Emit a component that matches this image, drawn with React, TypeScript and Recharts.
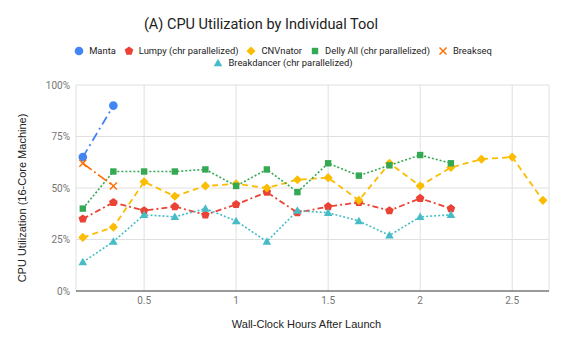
import React from 'react'
import { LineChart, Line, XAxis, YAxis, CartesianGrid } from 'recharts'

// hours after launch, one sample every 10 minutes
const hours = [0.167, 0.333, 0.5, 0.667, 0.833, 1, 1.167, 1.333, 1.5, 1.667, 1.833, 2, 2.167, 2.333, 2.5, 2.667]
const manta = [65, 90]
const lumpy = [35, 43, 39, 41, 37, 42, 48, 38, 41, 43, 39, 45, 40]
const cnvnator = [26, 31, 53, 46, 51, 52, 50, 54, 55, 44, 62, 51, 60, 64, 65, 44]
const delly = [40, 58, 58, 58, 59, 51, 59, 48, 62, 56, 61, 66, 62]
const breakseq = [62, 51]
const breakdancer = [14, 24, 37, 36, 40, 34, 24, 39, 38, 34, 27, 36, 37]

const xTicks = [0.5, 1, 1.5, 2, 2.5]
const yTicks = [0, 25, 50, 75, 100]

type Shape = 'circle' | 'pentagon' | 'diamond' | 'square' | 'x' | 'triangle'

const SERIES: { key: string; name: string; values: number[]; color: string; dash?: string; width: number; shape: Shape }[] = [
  { key: 'manta', name: 'Manta', values: manta, color: '#4285f4', dash: '9 4 2 4', width: 1.8, shape: 'circle' },
  { key: 'lumpy', name: 'Lumpy (chr parallelized)', values: lumpy, color: '#ea4335', dash: '6 3 2 3', width: 1.8, shape: 'pentagon' },
  { key: 'cnvnator', name: 'CNVnator', values: cnvnator, color: '#fbbc04', dash: '6 4', width: 1.8, shape: 'diamond' },
  { key: 'delly', name: 'Delly All (chr parallelized)', values: delly, color: '#34a853', dash: '2 2', width: 1.6, shape: 'square' },
  { key: 'breakseq', name: 'Breakseq', values: breakseq, color: '#ff6d01', dash: '11 3 2 3', width: 1.7, shape: 'x' },
  { key: 'breakdancer', name: 'Breakdancer (chr parallelized)', values: breakdancer, color: '#46bdc6', dash: '2 2', width: 1.6, shape: 'triangle' },
]

const data = hours.map((h, i) => {
  const row: Record<string, number | null> = { h }
  SERIES.forEach((s) => {
    row[s.key] = i < s.values.length ? s.values[i] : null
  })
  return row
})

function Marker({ shape, cx, cy, color }: { shape: Shape; cx: number; cy: number; color: string }) {
  switch (shape) {
    case 'circle':
      return <circle cx={cx} cy={cy} r={4.3} fill={color} />
    case 'pentagon': {
      const pts = [0, 1, 2, 3, 4]
        .map((k) => {
          const a = -Math.PI / 2 + (k * 2 * Math.PI) / 5
          return `${cx + 4.5 * Math.cos(a)},${cy + 4.5 * Math.sin(a)}`
        })
        .join(' ')
      return <polygon points={pts} fill={color} />
    }
    case 'diamond':
      return <polygon points={`${cx},${cy - 4.6} ${cx + 4.6},${cy} ${cx},${cy + 4.6} ${cx - 4.6},${cy}`} fill={color} />
    case 'square':
      return <rect x={cx - 3.2} y={cy - 3.2} width={6.4} height={6.4} fill={color} />
    case 'x':
      return (
        <g stroke={color} strokeWidth={1.4}>
          <line x1={cx - 3.5} y1={cy - 3.5} x2={cx + 3.5} y2={cy + 3.5} />
          <line x1={cx - 3.5} y1={cy + 3.5} x2={cx + 3.5} y2={cy - 3.5} />
        </g>
      )
    case 'triangle':
      return <polygon points={`${cx},${cy - 4.3} ${cx + 4.3},${cy + 3.2} ${cx - 4.3},${cy + 3.2}`} fill={color} />
  }
}

const FONT = 'Roboto, Arial, sans-serif'
const AXIS_FONT = 'Arial, "Liberation Sans", sans-serif'

function LegendItem({ s }: { s: (typeof SERIES)[number] }) {
  return (
    <span style={{ display: 'inline-flex', alignItems: 'center' }}>
      <svg width={10} height={10} style={{ marginRight: 5 }}>
        <Marker shape={s.shape} cx={5} cy={5} color={s.color} />
      </svg>
      {s.name}
    </span>
  )
}

export default function App() {
  return (
    <div style={{ position: 'fixed', left: 0, top: 0, width: 566, height: 350, background: '#fff', fontFamily: FONT }}>
      <div style={{ position: 'absolute', top: 16, left: 0, width: 522, textAlign: 'center', fontSize: 14.5, color: '#222' }}>
        (A) CPU Utilization by Individual Tool
      </div>
      <div style={{ position: 'absolute', top: 44.5, width: 566, fontSize: 9.4, color: '#222', lineHeight: '12.5px' }}>
        <div style={{ display: 'flex', justifyContent: 'center', gap: 8 }}>
          {SERIES.slice(0, 5).map((s) => (
            <LegendItem key={s.key} s={s} />
          ))}
        </div>
        <div style={{ display: 'flex', justifyContent: 'center' }}>
          <LegendItem s={SERIES[5]} />
        </div>
      </div>
      <LineChart width={566} height={350} data={data} margin={{ top: 85, right: 17, bottom: 19, left: 0 }}>
        <CartesianGrid stroke="#e0e0e0" strokeWidth={1} />
        <XAxis
          dataKey="h"
          type="number"
          domain={[0.13, 2.7]}
          ticks={xTicks}
          allowDataOverflow
          height={40}
          tickLine={false}
          tickSize={0}
          tickMargin={6}
          axisLine={{ stroke: '#444' }}
          tick={{ fill: '#757575', fontSize: 10, fontFamily: FONT }}
          label={{
            content: ({ viewBox }: any) => (
              <text
                x={viewBox.x + viewBox.width / 2 - 6}
                y={viewBox.y + 37}
                textAnchor="middle"
                fill="#222"
                fontSize={11}
                fontFamily={AXIS_FONT}
              >
                Wall-Clock Hours After Launch
              </text>
            ),
          }}
        />
        <YAxis
          type="number"
          domain={[0, 100]}
          ticks={yTicks}
          width={76}
          axisLine={false}
          tickLine={false}
          tickSize={0}
          tickMargin={6}
          tickFormatter={(v: number) => `${v}%`}
          tick={{ fill: '#757575', fontSize: 10, fontFamily: FONT }}
          label={{
            content: ({ viewBox }: any) => {
              const cx = viewBox.x + 22
              const cy = viewBox.y + viewBox.height / 2 + 10
              return (
                <text
                  x={cx}
                  y={cy}
                  transform={`rotate(-90 ${cx} ${cy})`}
                  textAnchor="middle"
                  dominantBaseline="central"
                  fill="#222"
                  fontSize={11}
                  fontFamily={AXIS_FONT}
                >
                  CPU Utilization (16-Core Machine)
                </text>
              )
            },
          }}
        />
        {SERIES.map((s) => (
          <Line
            key={s.key}
            dataKey={s.key}
            name={s.name}
            type="linear"
            stroke={s.color}
            strokeWidth={s.width}
            strokeDasharray={s.dash}
            isAnimationActive={false}
            connectNulls={false}
            activeDot={false}
            dot={(p: any) =>
              p.cx == null || p.value == null ? (
                <g key={`${s.key}-${p.index}`} />
              ) : (
                <Marker key={`${s.key}-${p.index}`} shape={s.shape} cx={p.cx} cy={p.cy} color={s.color} />
              )
            }
          />
        ))}
      </LineChart>
    </div>
  )
}
